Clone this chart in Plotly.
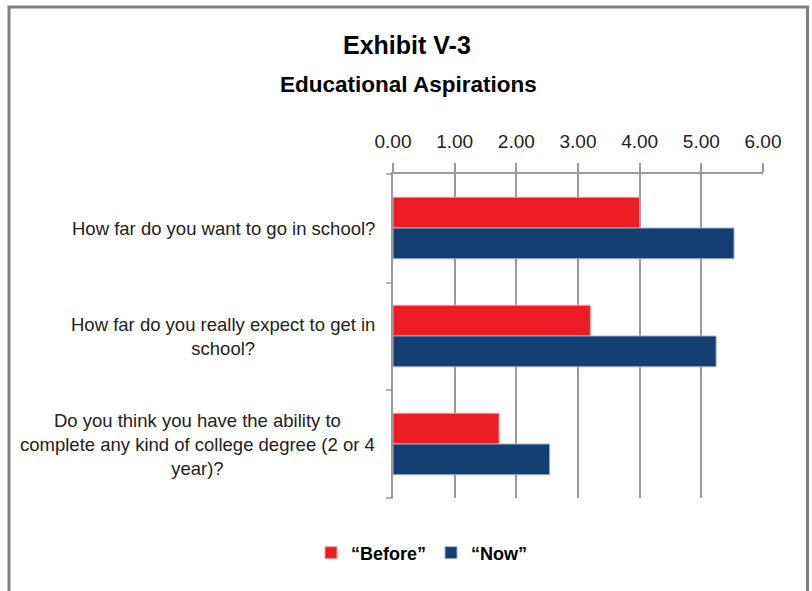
import plotly.graph_objects as go

categories = [
    "How far do you want to go in school?",
    "How far do you really expect to get in<br>school?",
    "Do you think you have the ability to<br>complete any kind of college degree (2 or 4<br>year)?",
]
before_vals = [4.00, 3.20, 1.72]
now_vals = [5.53, 5.24, 2.54]
tick_vals = [0, 1, 2, 3, 4, 5, 6]
tick_text = ["0.00", "1.00", "2.00", "3.00", "4.00", "5.00", "6.00"]

W, H = 812, 591
FONT = "Liberation Sans, Arial, sans-serif"
GRID = "#9A9A9A"

fig = go.Figure()
fig.add_trace(go.Bar(
    y=categories, x=before_vals, name="\u201cBefore\u201d", orientation="h",
    marker=dict(color="#ED1C24", line=dict(color="#F4A0A4", width=1)),
))
fig.add_trace(go.Bar(
    y=categories, x=now_vals, name="\u201cNow\u201d", orientation="h",
    marker=dict(color="#133F73", line=dict(color="#9FB3CC", width=1)),
))

x0, x1 = 393 / W, 763 / W
ytop, ybot = 1 - 174 / H, 1 - 498 / H

fig.update_layout(
    template="none",
    width=W, height=H,
    margin=dict(l=0, r=0, t=0, b=0, autoexpand=False),
    paper_bgcolor="white", plot_bgcolor="white",
    barmode="group", bargap=0.43, bargroupgap=0,
    font=dict(family=FONT, color="#222222"),
    xaxis=dict(
        domain=[x0, x1], side="top", range=[0, 6], automargin=False,
        tickvals=tick_vals, ticktext=tick_text,
        tickfont=dict(size=19, family=FONT, color="#222222"),
        ticklabelstandoff=8,
        showgrid=True, gridcolor=GRID, gridwidth=1.5,
        zeroline=False, showline=True, linecolor=GRID, linewidth=1.5,
        ticks="outside", ticklen=9, tickcolor=GRID, tickwidth=1.5,
        fixedrange=True,
    ),
    yaxis=dict(
        domain=[ybot, ytop], autorange="reversed", automargin=False,
        showticklabels=False,
        showline=True, linecolor=GRID, linewidth=1.5,
        ticks="", showgrid=False, zeroline=False, fixedrange=True,
    ),
    legend=dict(
        orientation="h", x=422 / W, xanchor="center", y=1 - 553 / H, yanchor="middle",
        font=dict(size=18, family=FONT, color="black", weight="bold"),
        traceorder="normal", bgcolor="rgba(0,0,0,0)",
    ),
    showlegend=True,
)

# Title
fig.add_annotation(text="<b>Exhibit V-3</b>", x=407 / W, y=1 - 45 / H, xref="paper", yref="paper",
                   xanchor="center", yanchor="middle",
                   showarrow=False, font=dict(size=25, family=FONT, color="black"))
fig.add_annotation(text="<b>Educational Aspirations</b>", x=408 / W, y=1 - 85 / H, xref="paper", yref="paper",
                   xanchor="center", yanchor="middle",
                   showarrow=False, font=dict(size=22.5, family=FONT, color="black"))

# category labels: right-aligned block, lines centered
for cat in categories:
    fig.add_annotation(text=cat, x=377 / W, xref="paper", y=cat, yref="y",
                       xanchor="right", yanchor="middle", align="center",
                       showarrow=False, font=dict(size=18.5, family=FONT, color="#222222"))

# category boundary ticks on the y axis
shapes = []
for yy in [174, 283, 390, 498]:
    shapes.append(dict(type="line", xref="paper", yref="paper",
                       x0=386 / W, x1=x0, y0=1 - yy / H, y1=1 - yy / H,
                       line=dict(color=GRID, width=1.5)))
# outer border
shapes.append(dict(type="rect", xref="paper", yref="paper",
                   x0=9 / W, x1=807.5 / W, y0=-0.05, y1=1 - 7 / H,
                   line=dict(color="#808080", width=3)))
fig.update_layout(shapes=shapes)

fig.write_html("out.html")
